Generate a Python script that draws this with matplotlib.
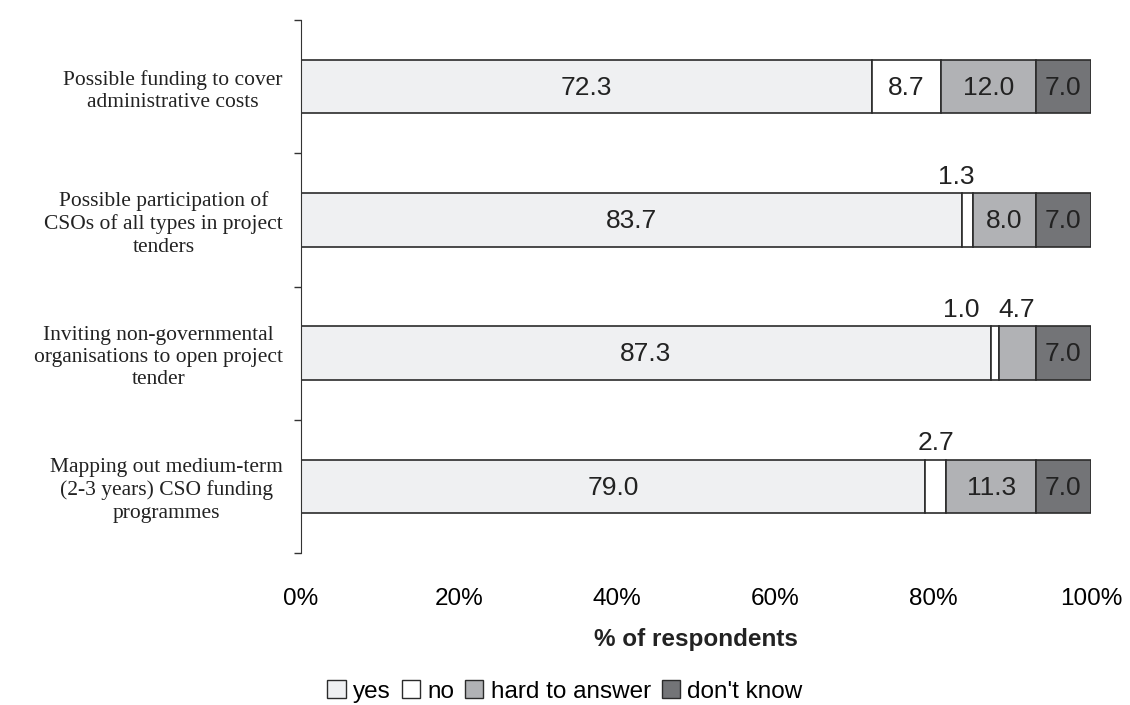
import matplotlib.pyplot as plt
from matplotlib.patches import Patch
from matplotlib.ticker import FixedLocator

plt.rcParams['font.family'] = ['Liberation Sans', 'DejaVu Sans']

categories = [
    "Possible funding to cover\nadministrative costs",
    "Possible participation of\nCSOs of all types in project\ntenders",
    "Inviting non-governmental\norganisations to open project\ntender",
    "Mapping out medium-term\n(2-3 years) CSO funding\nprogrammes",
]
series_names = ["yes", "no", "hard to answer", "don't know"]
yes = [72.3, 83.7, 87.3, 79.0]
no = [8.7, 1.3, 1.0, 2.7]
hard = [12.0, 8.0, 4.7, 11.3]
dont_know = [7.0, 7.0, 7.0, 7.0]
xticks = [0, 20, 40, 60, 80, 100]

colors = ['#eff0f2', '#ffffff', '#b1b2b5', '#737477']
edge = '#2b2b2b'
bar_h = 0.40

fig = plt.figure(figsize=(11.3, 7.05), dpi=100)
ax = fig.add_axes([0.2664, 0.2156, 0.6991, 0.756])

series = [yes, no, hard, dont_know]
ypos = list(range(len(categories)))
left = [0.0] * len(categories)
# nudges for small labels sitting above the bar so neighbours don't collide
above_shift = {(1, 1): -1.4, (1, 2): -4.2}
for k, vals in enumerate(series):
    ax.barh(ypos, vals, left=left, height=bar_h, color=colors[k],
            edgecolor=edge, linewidth=1.2, label=series_names[k])
    for i, v in enumerate(vals):
        cx = left[i] + v / 2
        if v >= 5:
            ax.text(cx, i + 0.01, f"{v:.1f}", ha='center', va='center',
                    fontsize=19, color='#222222')
        else:
            ax.text(cx + above_shift.get((k, i), 0), i - bar_h / 2 - 0.035,
                    f"{v:.1f}", ha='center', va='bottom', fontsize=19,
                    color='#222222')
    left = [l + v for l, v in zip(left, vals)]

ax.set_xlim(0, 100)
ax.set_ylim(len(categories) - 0.5, -0.5)
ax.set_xticks(xticks)
ax.set_xticklabels([f"{t}%" for t in xticks], fontsize=17.5)
ax.tick_params(axis='x', length=0, pad=25)
ax.set_yticks(ypos)
ax.set_yticklabels(categories, fontsize=15.5, family=['Liberation Serif'],
                   ha='right', multialignment='center', linespacing=1.22,
                   color='#222222')
ax.tick_params(axis='y', which='major', length=0, pad=13)
ax.yaxis.set_minor_locator(FixedLocator([y - 0.5 for y in range(len(categories) + 1)]))
ax.tick_params(axis='y', which='minor', length=5, width=1, color='#333333')
for s in ['top', 'right', 'bottom']:
    ax.spines[s].set_visible(False)
ax.spines['left'].set_color('#333333')
ax.set_xlabel('% of respondents', fontsize=17.5, fontweight='bold',
              labelpad=13, color='#222222')

handles = [Patch(facecolor=c, edgecolor=edge, linewidth=1.0) for c in colors]
fig.legend(handles, series_names, loc='center', bbox_to_anchor=(0.5, 0.019),
           ncol=4, frameon=False, fontsize=17.5, handlelength=0.75,
           handleheight=0.75, handletextpad=0.3, columnspacing=0.45,
           borderpad=0)

fig.savefig('out.png', dpi=100)
